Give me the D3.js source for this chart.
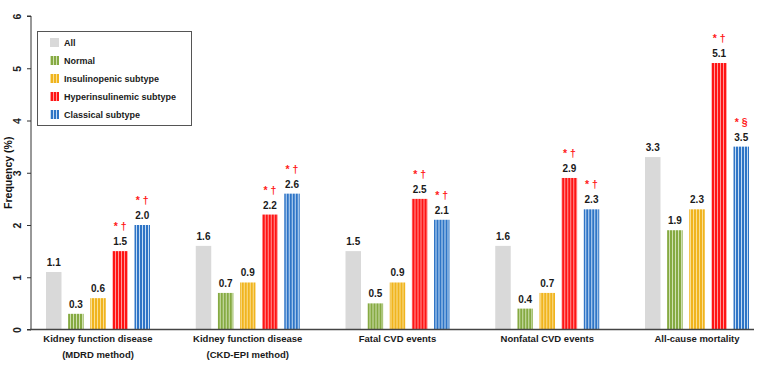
<!DOCTYPE html>
<html lang="en">
<head>
<meta charset="UTF-8">
<title>Frequency by subtype</title>
<style>
    body { margin: 0; background: #fff; }
    svg text { font-family: Arial, "Liberation Sans", sans-serif; font-weight: bold; }
</style>
</head>
<body>
<svg id="chart" width="762" height="378"></svg>
<script src="https://d3js.org/d3.v7.min.js"></script>
<script>
const categories = [
    ["Kidney function disease", "(MDRD method)"],
    ["Kidney function disease", "(CKD-EPI method)"],
    ["Fatal CVD events"],
    ["Nonfatal CVD events"],
    ["All-cause mortality"]
];
const seriesNames = ["All", "Normal", "Insulinopenic subtype", "Hyperinsulinemic subtype", "Classical subtype"];
const allValues = [1.1, 1.6, 1.5, 1.6, 3.3];
const normalValues = [0.3, 0.7, 0.5, 0.4, 1.9];
const insulinopenicValues = [0.6, 0.9, 0.9, 0.7, 2.3];
const hyperValues = [1.5, 2.2, 2.5, 2.9, 5.1];
const classicalValues = [2.0, 2.6, 2.1, 2.3, 3.5];
const hyperMarks = ["*\u00a0\u2020", "*\u00a0\u2020", "*\u00a0\u2020", "*\u00a0\u2020", "*\u00a0\u2020"];
const classicalMarks = ["*\u00a0\u2020", "*\u00a0\u2020", "*\u00a0\u2020", "*\u00a0\u2020", "*\u00a0\u00a7"];
const yTicks = [0, 1, 2, 3, 4, 5, 6];

const series = [
    { name: seriesNames[0], values: allValues, marks: null, base: "#d9d9d9", light: null },
    { name: seriesNames[1], values: normalValues, marks: null, base: "#86aa42", light: "#cfe0b0" },
    { name: seriesNames[2], values: insulinopenicValues, marks: null, base: "#f0b41e", light: "#fadf94" },
    { name: seriesNames[3], values: hyperValues, marks: hyperMarks, base: "#ff1414", light: "#ff9a9a" },
    { name: seriesNames[4], values: classicalValues, marks: classicalMarks, base: "#2e74c6", light: "#c4dcf4" }
];

const svg = d3.select('#chart');

// stripe fills
const defs = svg.append('defs');
series.forEach((s, i) => {
    if (!s.light) return;
    const p = defs.append('pattern')
        .attr('id', 'stripe' + i)
        .attr('patternUnits', 'userSpaceOnUse')
        .attr('width', 3).attr('height', 10);
    p.append('rect').attr('width', 3).attr('height', 10).attr('fill', s.base);
    p.append('rect').attr('x', 2).attr('width', 1).attr('height', 10).attr('fill', s.light);
});
const fillOf = i => series[i].light ? `url(#stripe${i})` : series[i].base;

const y = d3.scaleLinear().domain([0, 6]).range([329.5, 16]);
const x0 = d3.scalePoint().domain(d3.range(categories.length)).range([98, 697]);
const x1 = d3.scaleBand().domain(d3.range(series.length)).range([-52, 52]).paddingInner(0.3);

// y axis
const yAxis = svg.append('g')
    .attr('transform', 'translate(31,0)')
    .call(d3.axisLeft(y).tickValues(yTicks).tickFormat(d3.format('d')).tickSize(4).tickPadding(6));
yAxis.select('.domain').attr('stroke', '#333').attr('d', `M-4,${y(6)}H0V${y(0)}H-4`);
yAxis.selectAll('.tick line').attr('stroke', '#333');
yAxis.selectAll('.tick text')
    .attr('font-size', 10.5)
    .attr('fill', '#222')
    .attr('x', null).attr('dy', null)
    .attr('text-anchor', 'middle')
    .attr('transform', 'translate(-10.5,0) rotate(-90)')
    .attr('y', 0);

svg.append('text')
    .attr('transform', `translate(12,${(y(0) + y(6)) / 2}) rotate(-90)`)
    .attr('text-anchor', 'middle')
    .attr('font-size', 10.5)
    .attr('fill', '#111')
    .text('Frequency (%)');

// bars
const groups = svg.append('g').selectAll('g')
    .data(categories.map((c, gi) => gi))
    .join('g')
    .attr('transform', gi => `translate(${x0(gi)},0)`);

series.forEach((s, si) => {
    groups.append('rect')
        .attr('x', x1(si))
        .attr('width', x1.bandwidth())
        .attr('y', gi => y(s.values[gi]))
        .attr('height', gi => y(0) - y(s.values[gi]))
        .attr('fill', fillOf(si));

    groups.append('text')
        .attr('x', x1(si) + x1.bandwidth() / 2)
        .attr('y', gi => y(s.values[gi]) - 6)
        .attr('text-anchor', 'middle')
        .attr('font-size', 10)
        .attr('fill', '#1a1a1a')
        .text(gi => s.values[gi].toFixed(1));

    if (s.marks) {
        groups.append('text')
            .attr('x', x1(si) + x1.bandwidth() / 2)
            .attr('y', gi => y(s.values[gi]) - 21)
            .attr('text-anchor', 'middle')
            .attr('font-size', 10.5)
            .attr('fill', '#ff1a1a')
            .text(gi => s.marks[gi]);
    }
});

// x axis line and category labels
svg.append('line')
    .attr('x1', 30).attr('x2', 754)
    .attr('y1', y(0)).attr('y2', y(0))
    .attr('stroke', '#444').attr('stroke-width', 1.6);

groups.each(function (gi) {
    const t = d3.select(this).append('text')
        .attr('text-anchor', 'middle')
        .attr('font-size', 9.5)
        .attr('fill', '#1a1a1a');
    categories[gi].forEach((line, li) => {
        t.append('tspan').attr('x', 0).attr('y', 342 + li * 16).text(line);
    });
});

// legend
const legend = svg.append('g');
legend.append('rect')
    .attr('x', 37.5).attr('y', 31.5)
    .attr('width', 154).attr('height', 94)
    .attr('fill', '#fff').attr('stroke', '#555');
series.forEach((s, si) => {
    const ly = 42.5 + si * 18;
    legend.append('rect')
        .attr('x', 50).attr('y', ly - 4.5)
        .attr('width', 9).attr('height', 9)
        .attr('fill', fillOf(si));
    legend.append('text')
        .attr('x', 64).attr('y', ly + 3.5)
        .attr('font-size', 9)
        .attr('fill', '#1a1a1a')
        .text(s.name);
});
</script>
</body>
</html>
